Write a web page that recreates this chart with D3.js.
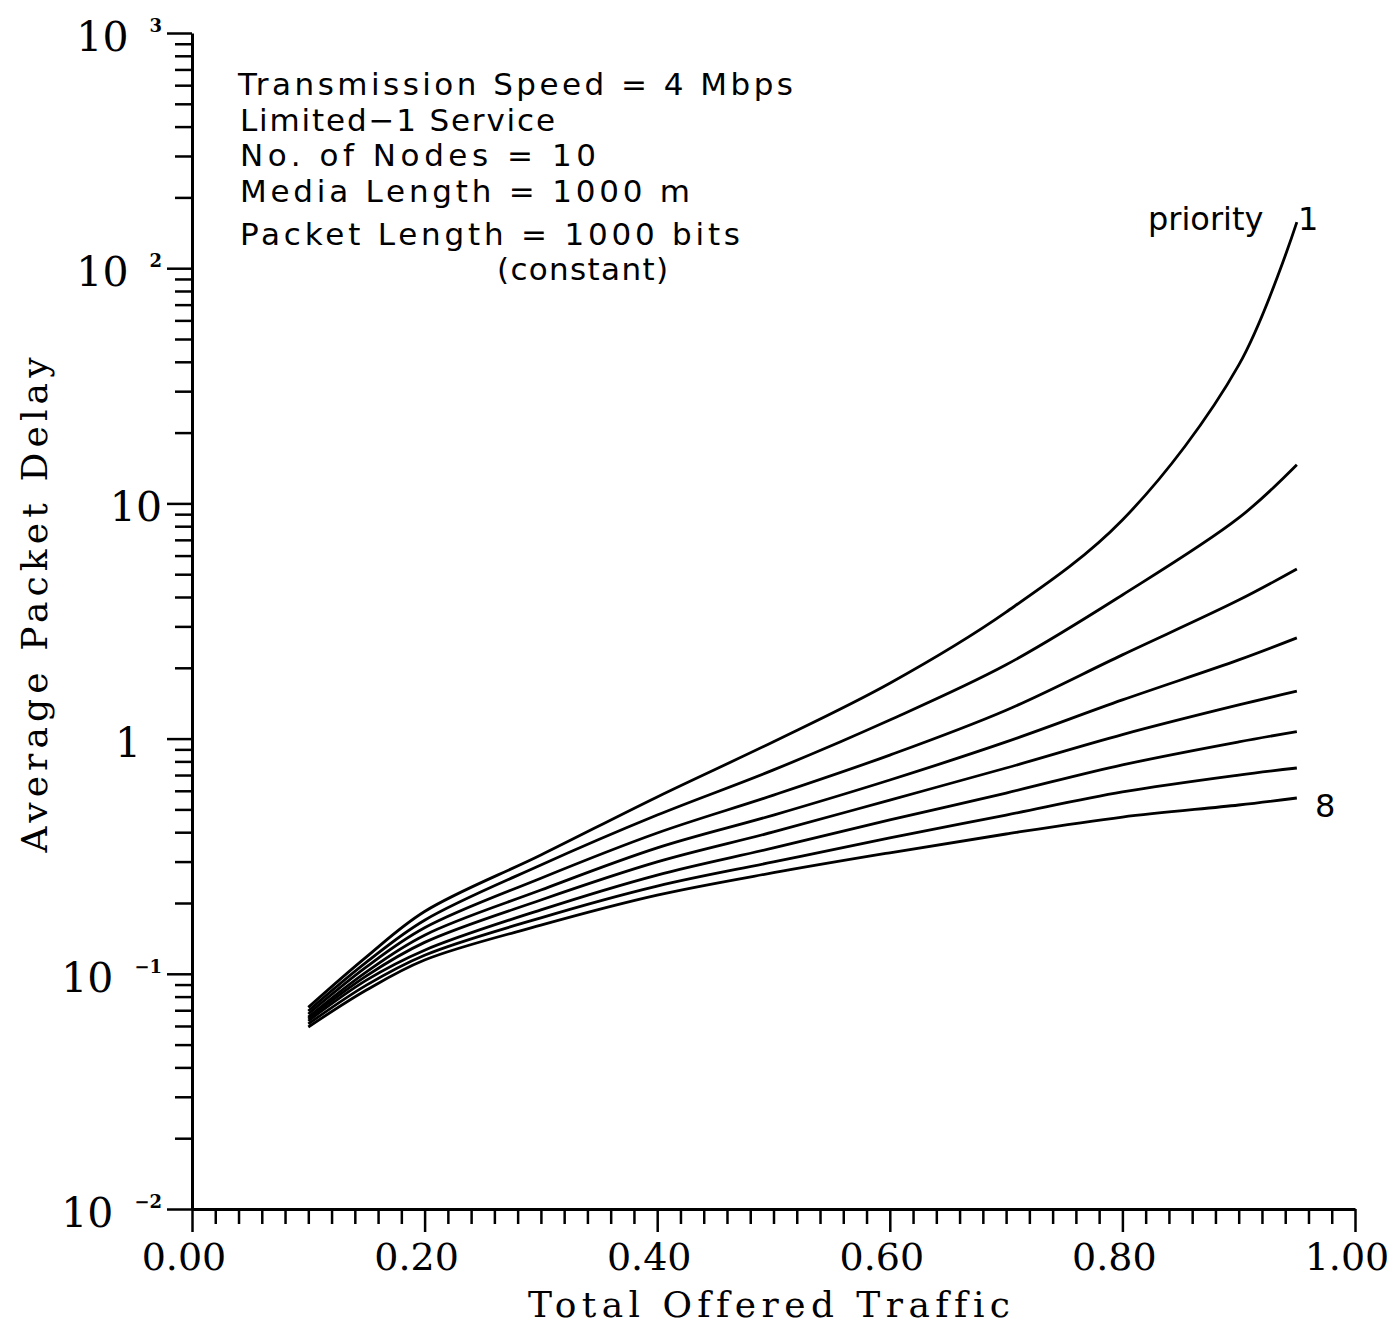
<!DOCTYPE html>
<html>
<head>
<meta charset="utf-8">
<script src="https://cdn.jsdelivr.net/npm/d3@7"></script>
<style>
  body { margin: 0; background: #fff; }
  text { font-variant-ligatures: none; }
  .axis .domain { stroke: #000; stroke-width: 3; }
  .axis line { stroke: #000; stroke-width: 2.5; }
  .curve { fill: none; stroke: #000; stroke-width: 2.8; stroke-linejoin: round; }
</style>
</head>
<body>
<div id="chart"></div>
<script>
// total offered traffic (x) where the curves were read
var traffic = [0.10, 0.15, 0.20, 0.30, 0.40, 0.50, 0.60, 0.70, 0.80, 0.90, 0.95];

// average packet delay per priority class, 1 (highest delay) .. 8
var delayP1 = [0.072, 0.118, 0.184, 0.320, 0.565, 0.97, 1.72, 3.45, 8.5, 38.7, 157];
var delayP2 = [0.0695, 0.112, 0.169, 0.290, 0.473, 0.736, 1.20, 2.06, 4.08, 8.67, 14.6];
var delayP3 = [0.0675, 0.107, 0.157, 0.255, 0.397, 0.575, 0.851, 1.32, 2.27, 3.88, 5.26];
var delayP4 = [0.0655, 0.102, 0.146, 0.227, 0.343, 0.473, 0.667, 0.968, 1.46, 2.16, 2.68];
var delayP5 = [0.0643, 0.098, 0.136, 0.206, 0.299, 0.401, 0.548, 0.750, 1.04, 1.39, 1.59];
var delayP6 = [0.063, 0.094, 0.126, 0.187, 0.263, 0.343, 0.451, 0.587, 0.773, 0.968, 1.07];
var delayP7 = [0.0612, 0.0895, 0.120, 0.173, 0.236, 0.299, 0.378, 0.473, 0.593, 0.700, 0.750];
var delayP8 = [0.0594, 0.0853, 0.1145, 0.161, 0.216, 0.269, 0.327, 0.393, 0.464, 0.522, 0.559];
var series = [delayP1, delayP2, delayP3, delayP4, delayP5, delayP6, delayP7, delayP8];

var xMajor = [0, 0.2, 0.4, 0.6, 0.8, 1.0];
var xLabels = ["0.00", "0.20", "0.40", "0.60", "0.80", "1.00"];
var yDecades = [0.01, 0.1, 1, 10, 100, 1000];
var yBase = ["10", "10", "1", "10", "10", "10"];
var yExp = ["\u22122", "\u22121", "", "", "2", "3"];

var notes = ["Transmission Speed = 4 Mbps", "Limited\u22121 Service", "No. of Nodes = 10",
             "Media Length = 1000 m", "Packet Length = 1000 bits", "(constant)"];

var width = 1400, height = 1325;
var serif = "'DejaVu Serif', serif", sans = "'DejaVu Sans', sans-serif";

var svg = d3.select("#chart").append("svg")
    .attr("width", width)
    .attr("height", height);

var x = d3.scaleLinear().domain([0, 1]).range([192, 1355]);
var y = d3.scaleLog().domain([0.01, 1000]).range([1209, 33]);

// minor ticks
var yMinor = [];
yDecades.slice(0, -1).forEach(function (d) {
    for (var k = 2; k <= 9; k++) yMinor.push(d * k);
});
var xMinor = d3.range(0, 51).map(function (i) { return i * 0.02; })
    .filter(function (v, i) { return i % 10 != 0; });

// y axis
svg.append("g").attr("class", "axis")
    .attr("transform", "translate(192,0)")
    .call(d3.axisLeft(y).tickValues(yMinor).tickSize(17).tickFormat(""))
    .call(function (g) { g.select(".domain").remove(); });
svg.append("g").attr("class", "axis")
    .attr("transform", "translate(192,0)")
    .call(d3.axisLeft(y).tickValues(yDecades).tickSize(25).tickSizeOuter(0).tickFormat(""));

// x axis
svg.append("g").attr("class", "axis")
    .attr("transform", "translate(0,1209)")
    .call(d3.axisBottom(x).tickValues(xMinor).tickSize(15).tickFormat(""))
    .call(function (g) { g.select(".domain").remove(); });
svg.append("g").attr("class", "axis")
    .attr("transform", "translate(0,1209)")
    .call(d3.axisBottom(x).tickValues(xMajor).tickSize(23).tickSizeOuter(0).tickFormat(""));

svg.selectAll(".xlab")
    .data(xMajor)
    .enter().append("text")
    .attr("x", function (d) { return x(d) - 8; })
    .attr("y", 1270)
    .attr("text-anchor", "middle")
    .style("font-family", serif)
    .style("font-size", "38px")
    .text(function (d, i) { return xLabels[i]; });

// y labels: 10 with a small exponent
yDecades.forEach(function (d, i) {
    var ty = y(d);
    var right = 162;
    if (yExp[i]) {
        var e = svg.append("text")
            .attr("x", right).attr("y", ty - 1)
            .attr("text-anchor", "end")
            .style("font-family", serif)
            .style("font-size", "18px")
            .style("font-weight", "bold")
            .text(yExp[i]);
        right = right - e.node().getComputedTextLength() - 21;
    } else if (yBase[i] == "1") {
        right = 141;
    }
    svg.append("text")
        .attr("x", right).attr("y", ty + 18)
        .attr("text-anchor", "end")
        .style("font-family", serif)
        .style("font-size", "41px")
        .text(yBase[i]);
});

// axis titles
svg.append("text")
    .attr("x", 769).attr("y", 1317)
    .attr("text-anchor", "middle")
    .attr("textLength", 482)
    .attr("lengthAdjust", "spacing")
    .style("font-family", serif)
    .style("font-size", "36px")
    .text("Total Offered Traffic");

svg.append("text")
    .attr("transform", "translate(47,605) rotate(-90)")
    .attr("text-anchor", "middle")
    .attr("textLength", 495)
    .attr("lengthAdjust", "spacing")
    .style("font-family", serif)
    .style("font-size", "36px")
    .text("Average Packet Delay");

// curves
var line = d3.line()
    .curve(d3.curveCatmullRom.alpha(0.5))
    .x(function (d, i) { return x(traffic[i]); })
    .y(function (d) { return y(d); });

svg.selectAll(".curve")
    .data(series)
    .enter().append("path")
    .attr("class", "curve")
    .attr("d", line);

// annotation block
var noteX = [238, 240, 240, 240, 240, 497];
var noteY = [95, 131, 166, 202, 245, 280];
var noteW = [555, 315, 356, 450, 500, 171];
svg.selectAll(".note")
    .data(notes)
    .enter().append("text")
    .attr("class", "note")
    .attr("x", function (d, i) { return noteX[i]; })
    .attr("y", function (d, i) { return noteY[i]; })
    .attr("textLength", function (d, i) { return noteW[i]; })
    .attr("lengthAdjust", "spacing")
    .style("font-family", sans)
    .style("font-size", "31px")
    .text(function (d) { return d; });

svg.append("text")
    .attr("x", 1148).attr("y", 230)
    .style("font-family", sans)
    .style("font-size", "32px")
    .text("priority");
svg.append("text")
    .attr("x", 1298).attr("y", 230)
    .style("font-family", sans)
    .style("font-size", "32px")
    .text("1");
svg.append("text")
    .attr("x", 1315).attr("y", 817)
    .style("font-family", sans)
    .style("font-size", "32px")
    .text("8");
</script>
</body>
</html>
